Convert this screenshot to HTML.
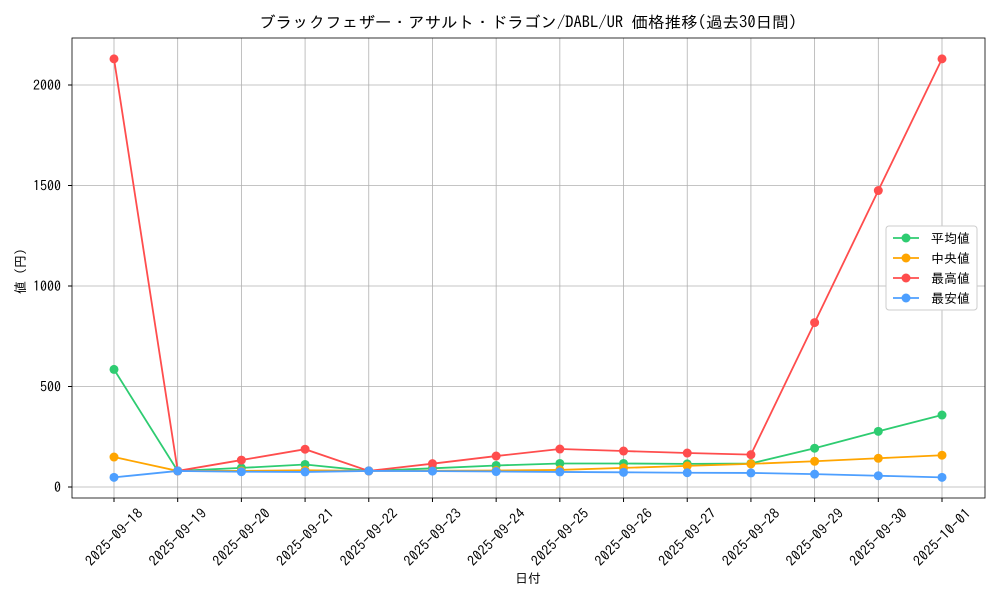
<!DOCTYPE html>
<html><head><meta charset="utf-8"><style>
body{margin:0;background:#fff;font-family:"IPAGothic","Noto Sans CJK JP",sans-serif}
svg text{font-family:"IPAGothic","Noto Sans CJK JP",sans-serif;fill:#000}
</style></head><body>
<svg id="c" width="1000" height="600"></svg>
<script>
const dates=["2025-09-18","2025-09-19","2025-09-20","2025-09-21","2025-09-22","2025-09-23","2025-09-24","2025-09-25","2025-09-26","2025-09-27","2025-09-28","2025-09-29","2025-09-30","2025-10-01"];
const avgVals=[585,80,95,112,80,93,107,117,117,115,117,193,277,358];
const medVals=[149,80,80,83,80,81,82,85,95,105,115,128,143,158];
const maxVals=[2130,80,134,188,80,116,154,189,179,169,161,818,1475,2130];
const minVals=[48,80,76,75,80,79,77,75,73,71,70,64,56,48];
const yTicks=[0,500,1000,1500,2000];
const series=[["平均値","#2ecc71",avgVals,"legend-avg","line-avg"],["中央値","#ffa500",medVals,"legend-median","line-median"],["最高値","#ff4d4d",maxVals,"legend-max","line-max"],["最安値","#4d9fff",minVals,"legend-min","line-min"]];
const L=72,R=985,T=38,B=498;
const x=i=>114+i*(942-114)/(dates.length-1);
const y=v=>487-v*(487-85)/2000;
const s=document.getElementById('c');const NS="http://www.w3.org/2000/svg";
function mk(t,a,p){const e=document.createElementNS(NS,t);for(const k in a)e.setAttribute(k,a[k]);(p||s).appendChild(e);return e;}
dates.forEach((d,i)=>{const g=mk('line',{x1:x(i),x2:x(i),y1:T,y2:B,stroke:'#b0b0b0','stroke-width':0.8});

const tk=mk('line',{x1:x(i),x2:x(i),y1:B,y2:B+4,stroke:'#000'});
const cx=x(i),cy=B+39;
const t=mk('text',{x:cx,y:cy+5,'font-size':14,'text-anchor':'middle',textLength:74,transform:`rotate(-45 ${cx} ${cy})`});t.textContent=d;
});
yTicks.forEach(v=>{const g=mk('line',{x1:L,x2:R,y1:y(v),y2:y(v),stroke:'#b0b0b0','stroke-width':0.8});

const tk=mk('line',{x1:L-4,x2:L,y1:y(v),y2:y(v),stroke:'#000'});
const t=mk('text',{x:L-11,y:y(v)+5,'font-size':14,'text-anchor':'end'});t.textContent=v;
});
const fr=mk('rect',{x:L,y:T,width:R-L,height:B-T,fill:'none',stroke:'#000','stroke-width':0.8});

series.forEach(([n,c,vals,ln,sn])=>{const g=mk('g',{});
mk('polyline',{points:vals.map((v,i)=>x(i)+','+y(v)).join(' '),fill:'none',stroke:c,'stroke-width':1.8},g);
vals.forEach((v,i)=>{const p=mk('circle',{cx:x(i),cy:y(v),r:4.5,fill:c},g);});});
const lg=mk('g',{});
mk('rect',{x:886,y:226,width:91,height:84,fill:'#fff',stroke:'#ccc',rx:3},lg);
series.forEach(([n,c,vals,ln],k)=>{const e=mk('g',{},lg);
const yy=238+k*20;mk('line',{x1:893,x2:919,y1:yy,y2:yy,stroke:c,'stroke-width':1.8},e);mk('circle',{cx:906,cy:yy,r:4.5,fill:c},e);
const t=mk('text',{x:931,y:yy+5,'font-size':13},e);t.textContent=n;});
const tt=mk('text',{x:528,y:28,'font-size':16,'text-anchor':'middle',textLength:538,lengthAdjust:'spacingAndGlyphs'});tt.textContent="ブラックフェザー・アサルト・ドラゴン/DABL/UR 価格推移(過去30日間)";

const xl=mk('text',{x:528,y:583,'font-size':13,'text-anchor':'middle'});xl.textContent="日付";

const yl=mk('text',{x:25,y:268,'font-size':13,'text-anchor':'middle',transform:'rotate(-90 25 268)'});yl.textContent="値（円）";

</script></body></html>
